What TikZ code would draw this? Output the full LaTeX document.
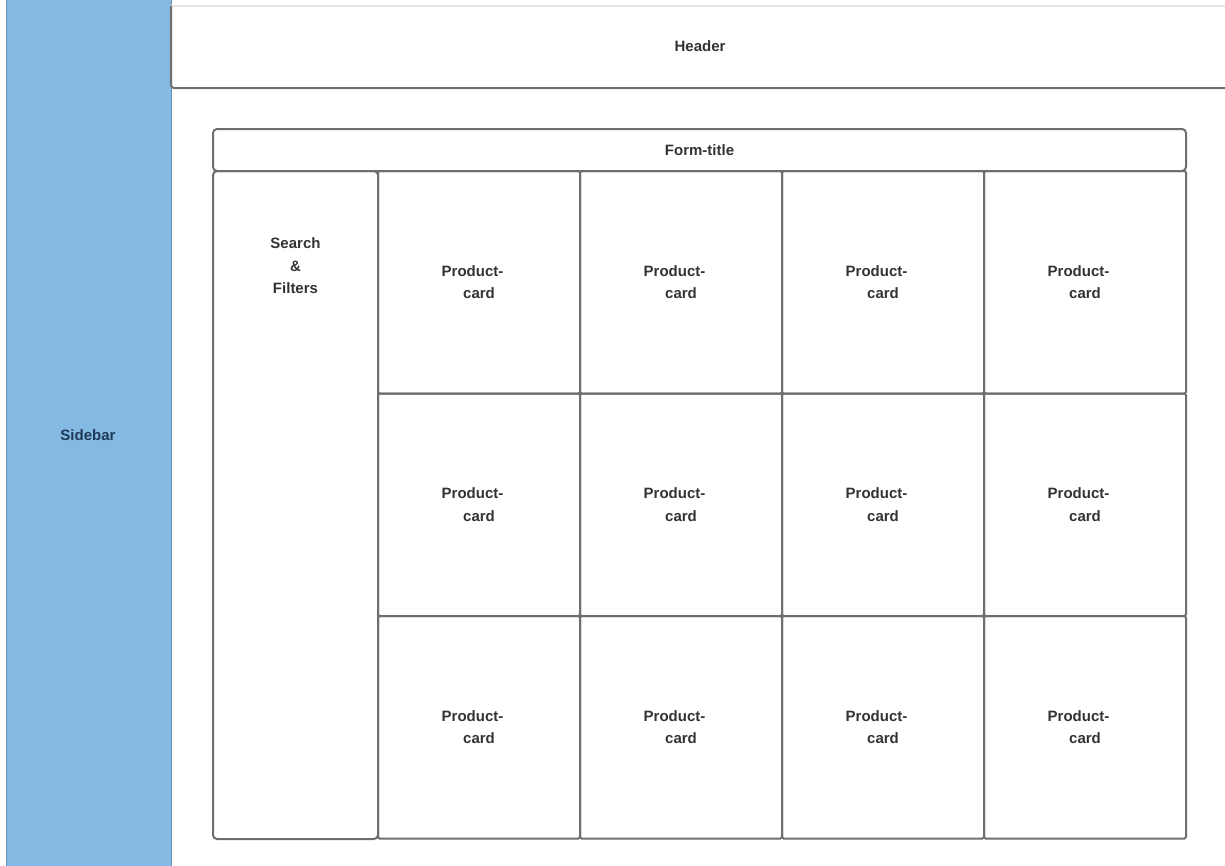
\documentclass[tikz,border=0pt]{standalone}
\usepackage{fontspec}
\setmainfont{Liberation Sans}
\definecolor{sidefill}{HTML}{84B9E3}
\definecolor{sidetext}{HTML}{1E3A56}
\definecolor{edge}{HTML}{6E6E6E}
\definecolor{faint}{HTML}{E6E6E6}
\definecolor{labeltext}{HTML}{333333}
\begin{document}
\begin{tikzpicture}[x=1pt,y=-1pt,
  every node/.style={font=\fontsize{15}{22.5}\selectfont\bfseries, text=labeltext, align=center, inner sep=0pt, outer sep=0pt},
  cell/.style={draw=edge, line width=2pt, rectangle, rounded corners=1.5pt, anchor=north west},
  card/.style={cell, minimum width=202pt, minimum height=222.5pt}]
\useasboundingbox (0,0) rectangle (1225,865);
\fill[white] (0,0) rectangle (1225,865);

% sidebar
\node[anchor=north west, fill=sidefill, draw=sidefill!80!black, line width=0.6pt,
      minimum width=165pt, minimum height=867pt] (sidebar) at (6,-1) {};
\node[text=sidetext] (sidelabel) at (88,435) {Sidebar};

% header
\draw[faint, line width=1.2pt] (171,6) -- (1225,6);
\draw[edge, line width=2pt, rounded corners=3pt] (171,6) -- (171,88) -- (1225,88);
\node (header) at (700,46) {Header};

% form title bar
\node[cell, rounded corners=4pt, minimum width=973pt, minimum height=42pt] (title) at (213,129) {};
\node at (title.center) {Form-title};

% search and filters column
\node[cell, rounded corners=4pt, minimum width=165pt, minimum height=668pt] (search) at (213,171) {};
\node at (295.5,266) {Search\\\&\\Filters};

% product cards, 3 rows by 4 columns
\foreach \c/\x in {1/378,2/580,3/782,4/984}{
  \foreach \r/\y in {1/171,2/393.5,3/616}{
    \node[card] (card\r\c) at (\x,\y) {};
    \node at (card\r\c.center) {Product-\kern13pt\\card};
  }
}
\end{tikzpicture}
\end{document}
